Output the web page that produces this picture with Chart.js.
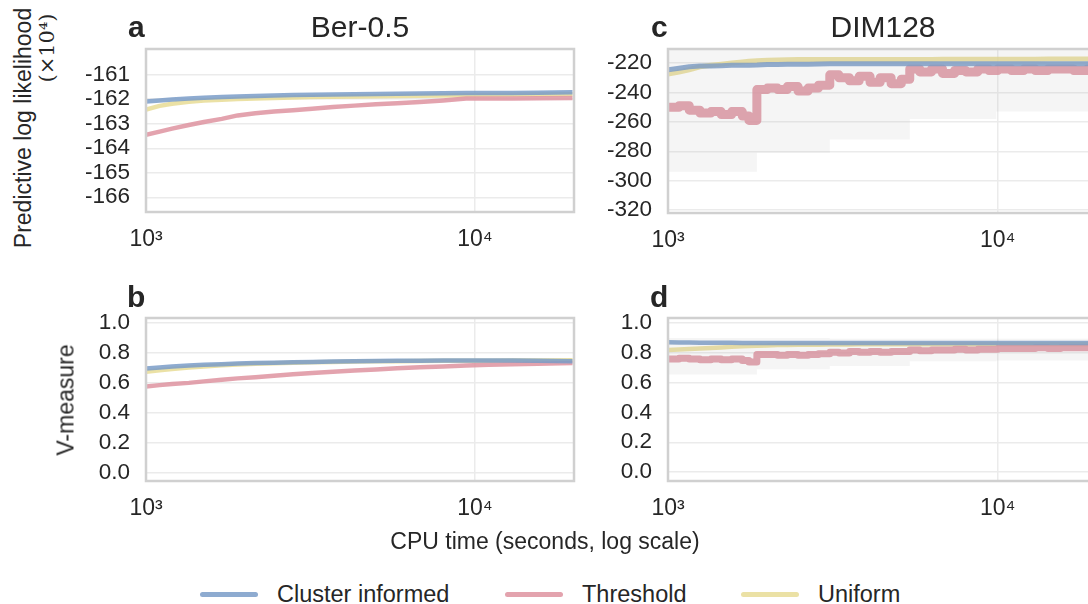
<!DOCTYPE html>
<html>
<head>
<meta charset="utf-8">
<script src="https://cdn.jsdelivr.net/npm/chart.js@4.4.1/dist/chart.umd.min.js"></script>
<style>
  body { margin: 0; width: 1088px; height: 604px; overflow: hidden; background: #fff; position: relative;
         font-family: "Liberation Sans", Arial, sans-serif; color: #262626; }
  canvas { position: absolute; }
  .txt { position: absolute; white-space: nowrap; line-height: 1; }
  .letter { font-weight: bold; font-size: 30px; }
  .title { font-size: 30px; transform: translateX(-50%); }
  .axis { font-size: 23px; }
  .rot { transform: translate(-50%, -50%) rotate(-90deg); }
  .legend { position: absolute; top: 581px; height: 26px; display: flex; align-items: center; font-size: 23.5px; }
  .legend span.sw { display: inline-block; width: 58px; height: 5px; border-radius: 3px; margin-right: 19px; }
</style>
</head>
<body>

<canvas id="chartA" width="530" height="230" style="left:60px; top:40px;"></canvas>
<canvas id="chartB" width="530" height="230" style="left:60px; top:310px;"></canvas>
<canvas id="chartC" width="540" height="230" style="left:580px; top:40px;"></canvas>
<canvas id="chartD" width="540" height="230" style="left:580px; top:310px;"></canvas>

<div class="txt letter" style="left:128px; top:12px;">a</div>
<div class="txt title" style="left:360px; top:12px;">Ber-0.5</div>
<div class="txt letter" style="left:651px; top:12px;">c</div>
<div class="txt title" style="left:883px; top:12px;">DIM128</div>
<div class="txt letter" style="left:127px; top:282px;">b</div>
<div class="txt letter" style="left:650px; top:282px;">d</div>

<div class="txt axis rot" style="left:23px; top:128px;">Predictive log likelihood</div>
<div class="txt rot" style="left:47px; top:48px; font-size:21px; font-family:'DejaVu Serif', serif;">(×10⁴)</div>
<div class="txt axis rot" style="left:66px; top:400px;">V-measure</div>
<div class="txt axis" style="left:545px; top:541px; transform:translate(-50%,-50%);">CPU time (seconds, log scale)</div>

<div class="legend" style="left:200px;"><span class="sw" id="sw0"></span><span id="lg0"></span></div>
<div class="legend" style="left:505px;"><span class="sw" id="sw1"></span><span id="lg1"></span></div>
<div class="legend" style="left:741px;"><span class="sw" id="sw2"></span><span id="lg2"></span></div>

<script>
// ---- data ----
const seriesNames = ['Cluster informed', 'Threshold', 'Uniform'];
const seriesColors = ['rgba(122,156,200,0.85)', 'rgba(222,147,160,0.85)', 'rgba(231,220,149,0.85)'];
const legendColors = ['#8eabd0', '#e3a3ae', '#ebe1a5'];

const xTicks = [1000, 10000];
const llTicksBer = [-166, -165, -164, -163, -162, -161];
const llTicksDim = [-320, -300, -280, -260, -240, -220];
const vTicks = [0.0, 0.2, 0.4, 0.6, 0.8, 1.0];

// Ber-0.5 (panels a, b)
const timesBer = [1000, 1100, 1200, 1350, 1500, 1700, 1900, 2150, 2450, 2800, 3200, 3700, 4300, 5000, 5800, 6800, 8000, 9400, 11000, 13000, 15500, 19800];
const berLLCluster = [-162.09, -162.05, -162.01, -161.97, -161.94, -161.91, -161.89, -161.87, -161.85, -161.83, -161.82, -161.81, -161.80, -161.79, -161.78, -161.77, -161.76, -161.75, -161.74, -161.74, -161.73, -161.71];
const berLLThreshold = [-163.45, -163.32, -163.20, -163.05, -162.93, -162.80, -162.66, -162.57, -162.50, -162.45, -162.39, -162.32, -162.26, -162.20, -162.16, -162.11, -162.05, -161.97, -161.97, -161.97, -161.96, -161.95];
const berLLUniform = [-162.42, -162.27, -162.18, -162.10, -162.05, -162.02, -161.99, -161.97, -161.95, -161.93, -161.91, -161.90, -161.89, -161.88, -161.87, -161.86, -161.85, -161.84, -161.83, -161.82, -161.81, -161.80];
const berVCluster = [0.696, 0.703, 0.710, 0.716, 0.721, 0.725, 0.729, 0.732, 0.735, 0.738, 0.740, 0.743, 0.745, 0.746, 0.747, 0.748, 0.749, 0.750, 0.750, 0.749, 0.747, 0.745];
const berVThreshold = [0.576, 0.585, 0.592, 0.600, 0.610, 0.621, 0.630, 0.638, 0.647, 0.657, 0.666, 0.674, 0.682, 0.690, 0.697, 0.704, 0.710, 0.716, 0.721, 0.724, 0.728, 0.732];
const berVUniform = [0.674, 0.684, 0.693, 0.702, 0.710, 0.717, 0.722, 0.727, 0.731, 0.734, 0.737, 0.740, 0.742, 0.744, 0.745, 0.746, 0.747, 0.748, 0.748, 0.749, 0.750, 0.751];

// DIM128 (panels c, d)
const timesDim = [1000, 1080, 1160, 1250, 1350, 1450, 1560, 1680, 1760, 1860, 2000, 2150, 2300, 2480, 2660, 2860, 3095, 3300, 3550, 3800, 4100, 4400, 4750, 5100, 5410, 5800, 6300, 6800, 7400, 8000, 8700, 9400, 10000, 11000, 12000, 13000, 14200, 15500, 17000, 18700, 20000];
const dimLLCluster = [-224.5, -223.5, -222.5, -222.0, -222.0, -221.8, -221.5, -221.5, -221.4, -221.3, -221.0, -221.0, -220.8, -220.8, -220.7, -220.6, -220.5, -220.5, -220.5, -220.5, -220.5, -220.5, -220.5, -220.5, -220.5, -220.5, -220.5, -220.5, -220.5, -220.5, -220.5, -220.5, -220.5, -220.5, -220.5, -220.5, -220.5, -220.5, -220.5, -220.5, -220.5];
const dimLLThreshold = [-250, -249, -252, -254, -253, -255, -253, -256, -259, -238, -237, -238, -236, -239, -237, -235, -228, -230, -232, -229, -233, -230, -234, -231, -224, -226, -224, -227, -225, -226, -224, -225, -224, -225, -224, -225, -224, -224, -225, -224, -224];
const dimLLUniform = [-227.5, -226.0, -224.5, -222.5, -221.5, -220.7, -220.0, -219.3, -218.8, -218.4, -218.0, -217.8, -217.7, -217.6, -217.6, -217.5, -217.5, -217.5, -217.5, -217.5, -217.5, -217.5, -217.5, -217.5, -217.5, -217.5, -217.5, -217.4, -217.4, -217.4, -217.4, -217.3, -217.3, -217.3, -217.3, -217.3, -217.2, -217.2, -217.2, -217.2, -217.2];
const dimVCluster = [0.872, 0.871, 0.870, 0.869, 0.868, 0.868, 0.868, 0.867, 0.867, 0.867, 0.867, 0.867, 0.867, 0.867, 0.867, 0.867, 0.867, 0.867, 0.867, 0.867, 0.867, 0.867, 0.867, 0.867, 0.867, 0.867, 0.867, 0.867, 0.867, 0.867, 0.867, 0.867, 0.867, 0.867, 0.867, 0.867, 0.867, 0.867, 0.867, 0.867, 0.867];
const dimVThreshold = [0.760, 0.765, 0.760, 0.755, 0.760, 0.755, 0.760, 0.750, 0.740, 0.790, 0.790, 0.785, 0.790, 0.785, 0.790, 0.795, 0.805, 0.800, 0.810, 0.805, 0.810, 0.805, 0.810, 0.810, 0.820, 0.815, 0.820, 0.820, 0.825, 0.820, 0.825, 0.825, 0.830, 0.830, 0.830, 0.835, 0.830, 0.835, 0.835, 0.835, 0.836];
const dimVUniform = [0.820, 0.823, 0.827, 0.830, 0.834, 0.837, 0.841, 0.845, 0.847, 0.849, 0.851, 0.853, 0.854, 0.855, 0.856, 0.856, 0.857, 0.857, 0.857, 0.858, 0.858, 0.858, 0.858, 0.858, 0.858, 0.858, 0.859, 0.859, 0.859, 0.859, 0.859, 0.859, 0.859, 0.859, 0.859, 0.859, 0.859, 0.859, 0.859, 0.859, 0.859];

// grey spread of the Threshold runs on DIM128
const bandTimes = [1000, 1860, 3095, 5410, 9900, 20000];
const dimLLBandLow = [-294, -281, -272, -258, -253, -253];
const dimLLBandHigh = [-211, -211, -211, -211, -211, -211];
const dimVBandLow = [0.655, 0.690, 0.713, 0.745, 0.750, 0.750];
const dimVBandHigh = [0.900, 0.900, 0.895, 0.895, 0.895, 0.895];

// ---- legend ----
seriesNames.forEach((n, i) => {
  document.getElementById('lg' + i).textContent = n;
  document.getElementById('sw' + i).style.background = legendColors[i];
});

// ---- helpers ----
const FONT = "'Liberation Sans', Arial, sans-serif";
const TEXT = '#262626';

const frame = {
  id: 'frame',
  afterDatasetsDraw(chart) {
    const a = chart.chartArea, ctx = chart.ctx;
    ctx.save();
    ctx.strokeStyle = '#d0d0d0';
    ctx.lineWidth = 2.5;
    ctx.strokeRect(a.left, a.top, a.right - a.left, a.bottom - a.top);
    ctx.restore();
  }
};

function pts(times, vals) {
  return times.map((t, i) => ({x: t, y: vals[i]}));
}

function line(times, vals, idx, width, stepped) {
  return {
    data: pts(times, vals), borderColor: seriesColors[idx], borderWidth: width,
    borderJoinStyle: 'round', pointRadius: 0, fill: false, tension: 0, stepped: !!stepped
  };
}

function band(low, high) {
  return [
    {data: pts(bandTimes, high), borderWidth: 0, pointRadius: 0, stepped: true,
     fill: '+1', backgroundColor: 'rgba(160,160,160,0.11)'},
    {data: pts(bandTimes, low), borderWidth: 0, pointRadius: 0, stepped: true, fill: false}
  ];
}

// fixed axis boxes so the plot frames land where the figure has them
function noPad(s) {
  s.paddingTop = 0; s.paddingBottom = 0; s.paddingLeft = 0; s.paddingRight = 0;
}

function panel(id, datasets, yMin, yMax, yTicks, yFmt, box) {
  new Chart(document.getElementById(id), {
    type: 'line',
    data: {datasets: datasets},
    plugins: [frame],
    options: {
      responsive: false, animation: false, events: [],
      layout: {padding: {top: box.pt, right: box.pr, left: 0, bottom: 0}},
      plugins: {legend: {display: false}, tooltip: {enabled: false}},
      scales: {
        x: {
          type: 'logarithmic', min: 1000, max: 20000,
          afterBuildTicks: s => { s.ticks = xTicks.map(v => ({value: v})); },
          afterFit: s => { s.height = box.xh; noPad(s); },
          ticks: {
            padding: 14, color: TEXT, font: {family: FONT, size: 23}, maxRotation: 0, autoSkip: false,
            callback: v => v === 1000 ? '10³' : '10⁴'
          },
          grid: {color: '#ebebeb', lineWidth: 1.5, drawTicks: false},
          border: {display: false}
        },
        y: {
          min: yMin, max: yMax,
          afterBuildTicks: s => { s.ticks = yTicks.map(v => ({value: v})); },
          afterFit: s => { s.width = box.yw; noPad(s); },
          ticks: {padding: 16, color: TEXT, font: {family: FONT, size: 22.5}, autoSkip: false, callback: yFmt},
          grid: {color: '#ebebeb', lineWidth: 1.5, drawTicks: false},
          border: {display: false}
        }
      }
    }
  });
}

const intFmt = v => String(v);
const decFmt = v => v.toFixed(1);

panel('chartA', [
  line(timesBer, berLLCluster, 0, 4.5),
  line(timesBer, berLLThreshold, 1, 4.5),
  line(timesBer, berLLUniform, 2, 4.5)
], -166.6, -159.95, llTicksBer, intFmt, {yw: 86, pr: 16, pt: 9, xh: 58});

panel('chartB', [
  line(timesBer, berVCluster, 0, 4.5),
  line(timesBer, berVThreshold, 1, 4.5),
  line(timesBer, berVUniform, 2, 4.5)
], -0.055, 1.033, vTicks, decFmt, {yw: 86, pr: 16, pt: 8, xh: 59});

panel('chartC', [
  ...band(dimLLBandLow, dimLLBandHigh),
  line(timesDim, dimLLCluster, 0, 5),
  line(timesDim, dimLLThreshold, 1, 9, true),
  line(timesDim, dimLLUniform, 2, 5)
], -322, -210.4, llTicksDim, intFmt, {yw: 88, pr: 23, pt: 9, xh: 57});

panel('chartD', [
  ...band(dimVBandLow, dimVBandHigh),
  line(timesDim, dimVCluster, 0, 4.5),
  line(timesDim, dimVThreshold, 1, 7, true),
  line(timesDim, dimVUniform, 2, 4.5)
], -0.06, 1.035, vTicks, decFmt, {yw: 88, pr: 23, pt: 8, xh: 59});
</script>
</body>
</html>
